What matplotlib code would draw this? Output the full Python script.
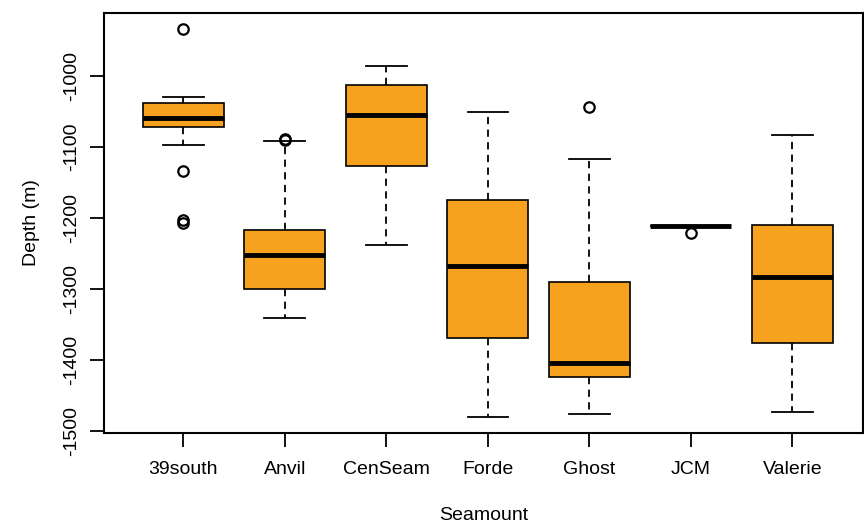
import matplotlib

matplotlib.use("Agg")
import matplotlib.pyplot as plt

plt.rcParams["font.family"] = ["Liberation Sans", "DejaVu Sans"]

# --- data (depth in metres) --------------------------------------------------
seamounts = ["39south", "Anvil", "CenSeam", "Forde", "Ghost", "JCM", "Valerie"]
whisker_hi = [-1030, -1092, -987, -1051, -1118, -1212, -1084]
box_hi = [-1038, -1217, -1014, -1175, -1291, -1212, -1211]
medians = [-1060, -1253, -1055, -1268, -1404, -1212, -1283]
box_lo = [-1072, -1300, -1128, -1369, -1424, -1212, -1376]
whisker_lo = [-1098, -1341, -1238, -1481, -1476, -1212, -1474]
outliers = [
    [-934, -1135, -1204, -1208],
    [-1089, -1091],
    [],
    [],
    [-1044],
    [-1221],
    [],
]

FILL = "#F6A21E"


def main():
    fig = plt.figure(figsize=(8.64, 5.27), dpi=100)
    ax = fig.add_axes([0.1204, 0.1784, 0.879, 0.797])

    stats = [
        dict(label=name, whishi=wh, q3=q3, med=md, q1=q1, whislo=wl, fliers=fl)
        for name, wh, q3, md, q1, wl, fl in zip(
            seamounts, whisker_hi, box_hi, medians, box_lo, whisker_lo, outliers
        )
    ]
    ax.bxp(
        stats,
        positions=range(1, len(seamounts) + 1),
        widths=0.8,
        patch_artist=True,
        boxprops=dict(facecolor=FILL, edgecolor="black", linewidth=1.2),
        medianprops=dict(color="black", linewidth=3.5, solid_capstyle="butt"),
        whiskerprops=dict(color="black", linewidth=1.3, linestyle=(0, (4, 3))),
        capprops=dict(color="black", linewidth=1.3),
        capwidths=0.4,
        flierprops=dict(marker="o", markerfacecolor="none", markeredgecolor="black",
                        markersize=7.5, markeredgewidth=1.6),
    )

    ax.set_xlim(0.22, 7.70)
    ax.set_ylim(-1503, -912)
    yticks = [-1500, -1400, -1300, -1200, -1100, -1000]
    ax.set_yticks(yticks)
    ax.set_yticklabels([str(v) for v in yticks], rotation=90, va="center")
    ax.tick_params(axis="both", direction="out", length=10, width=1.3,
                   labelsize=14, colors="black")
    ax.tick_params(axis="x", pad=10)
    ax.tick_params(axis="y", pad=7)
    for sp in ax.spines.values():
        sp.set_linewidth(1.5)

    ax.set_xlabel("Seamount", fontsize=14, labelpad=21)
    ax.set_ylabel("Depth (m)", fontsize=14, labelpad=17)

    fig.savefig("out.png", dpi=100)


if __name__ == "__main__":
    main()
